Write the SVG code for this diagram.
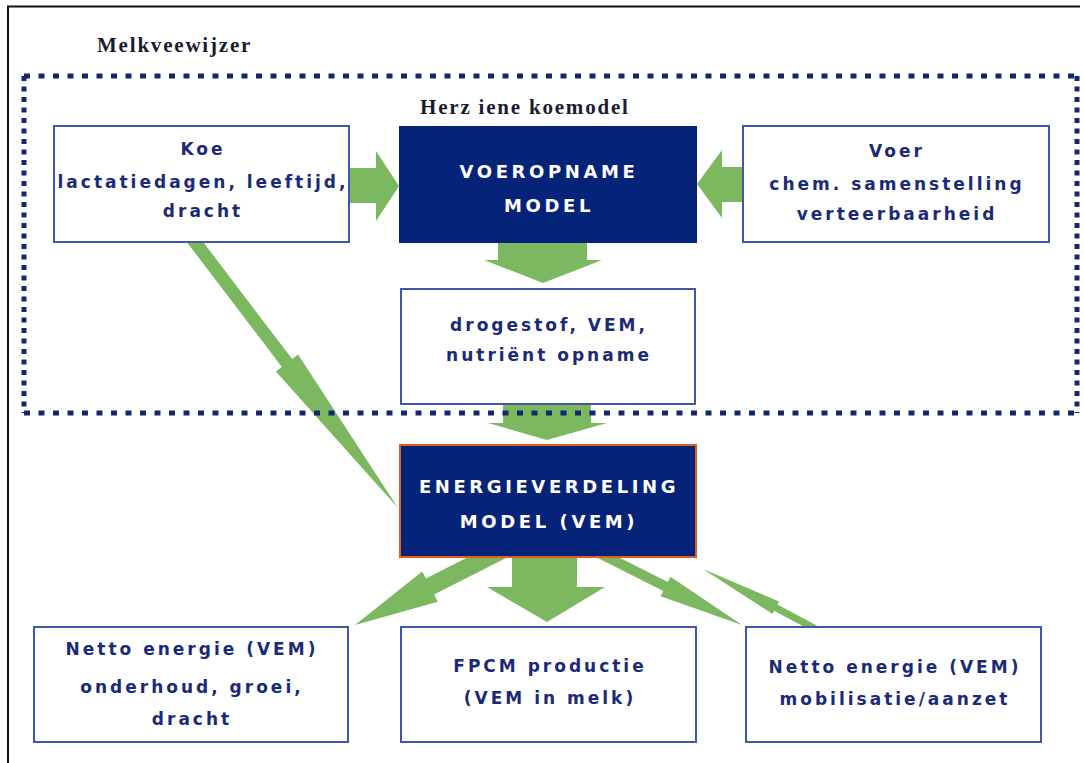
<svg xmlns="http://www.w3.org/2000/svg" width="1084" height="763" viewBox="0 0 1084 763">
<style>
.frame{fill:none;stroke:#111;stroke-width:2}
.dotH{fill:none;stroke:#16256e;stroke-width:5;stroke-dasharray:6 8.5}
.dotV{fill:none;stroke:#16256e;stroke-width:5;stroke-dasharray:5 5.5}
.arrow{fill:#7cb860}
.box{fill:#fff;stroke:#3f58a8;stroke-width:2}
.dark{fill:#06237a;stroke:#06237a;stroke-width:2}
.dark2{fill:#06237a;stroke:#e0601a;stroke-width:2}
.t{font-family:"DejaVu Sans",Verdana,sans-serif;font-weight:bold;font-size:17px;letter-spacing:3px;fill:#1b2a78;text-anchor:middle}
.w{font-family:"DejaVu Sans",Verdana,sans-serif;font-weight:bold;font-size:18px;letter-spacing:3.6px;fill:#fff;text-anchor:middle}
.title{font-family:"Liberation Serif","Times New Roman",serif;font-weight:bold;font-size:21px;letter-spacing:1.8px;fill:#1b1b30}
</style>
<rect width="1084" height="763" fill="#fff"/>
<polyline class="frame" points="8,763 8,6.5 1080,6.5"/>
<text class="title" x="97" y="52">Melkveewijzer</text>

<g id="connectors">
<polygon class="arrow" points="349,168 376,168 376,151 399,186 376,221 376,203 349,203"/>
<polygon class="arrow" points="743,167 722,167 722,150 697,184 722,218 722,202 743,202"/>
<polygon class="arrow" points="498,242 587,242 587,260 602,260 543,283 484,260 498,260"/>
<polygon class="arrow" points="503,403 591,403 591,423 607,423 547,440 488,423 503,423"/>
<polygon class="arrow" points="512,556 577,556 577,587 605,587 547,622 487,587 512,587"/>
<polygon class="arrow" points="192.9,228.6 292.2,359.1 298.1,354.5 398,508 275.9,371.5 281.8,366.9 182.5,236.4"/>
<polygon class="arrow" points="497.3,542.2 425.9,578.6 422.2,571.4 355,625 437.8,601.8 434.1,594.6 505.5,558.2"/>
<polygon class="arrow" points="591.9,543.8 667.8,582 670.5,576.7 742,625 660.6,596.3 663.3,591 587.4,552.8"/>
<polygon class="arrow" points="824.2,629.5 777.4,604.6 779.1,601.5 703,569 772.5,613.9 774.1,610.8 820.9,635.7"/>
</g>

<g id="herziene-koemodel">
<line class="dotH" x1="24" y1="76" x2="1077" y2="76"/>
<line class="dotH" x1="24" y1="413" x2="1077" y2="413"/>
<line class="dotV" x1="24" y1="76" x2="24" y2="413"/>
<line class="dotV" x1="1077" y1="76" x2="1077" y2="413"/>
<text class="title" x="420" y="114">Herz iene koemodel</text>
</g>

<g id="koe">
<rect class="box" x="54" y="126" width="295" height="116"/>
<text class="t" x="203" y="155">Koe</text>
<text class="t" x="203" y="188">lactatiedagen, leeftijd,</text>
<text class="t" x="203" y="217">dracht</text>
</g>

<g id="voeropname">
<rect class="dark" x="400" y="127" width="296" height="115"/>
<text class="w" x="549" y="178">VOEROPNAME</text>
<text class="w" x="549" y="212">MODEL</text>
</g>

<g id="voer">
<rect class="box" x="743" y="126" width="306" height="116"/>
<text class="t" x="897" y="157">Voer</text>
<text class="t" x="897" y="190">chem. samenstelling</text>
<text class="t" x="897" y="220">verteerbaarheid</text>
</g>

<g id="drogestof">
<rect class="box" x="401" y="289" width="294" height="115"/>
<text class="t" x="549" y="331">drogestof, VEM,</text>
<text class="t" x="549" y="361">nutriënt opname</text>
</g>

<g id="energieverdeling">
<rect class="dark2" x="400" y="445" width="296" height="112"/>
<text class="w" x="549" y="493">ENERGIEVERDELING</text>
<text class="w" x="549" y="528">MODEL (VEM)</text>
</g>

<g id="onderhoud">
<rect class="box" x="34" y="627" width="314" height="115"/>
<text class="t" x="192" y="655">Netto energie (VEM)</text>
<text class="t" x="192" y="693">onderhoud, groei,</text>
<text class="t" x="192" y="725">dracht</text>
</g>

<g id="fpcm">
<rect class="box" x="401" y="627" width="295" height="115"/>
<text class="t" x="550" y="672">FPCM productie</text>
<text class="t" x="550" y="704">(VEM in melk)</text>
</g>

<g id="mobilisatie">
<rect class="box" x="746" y="627" width="295" height="115"/>
<text class="t" x="895" y="673">Netto energie (VEM)</text>
<text class="t" x="895" y="705">mobilisatie/aanzet</text>
</g>
</svg>
